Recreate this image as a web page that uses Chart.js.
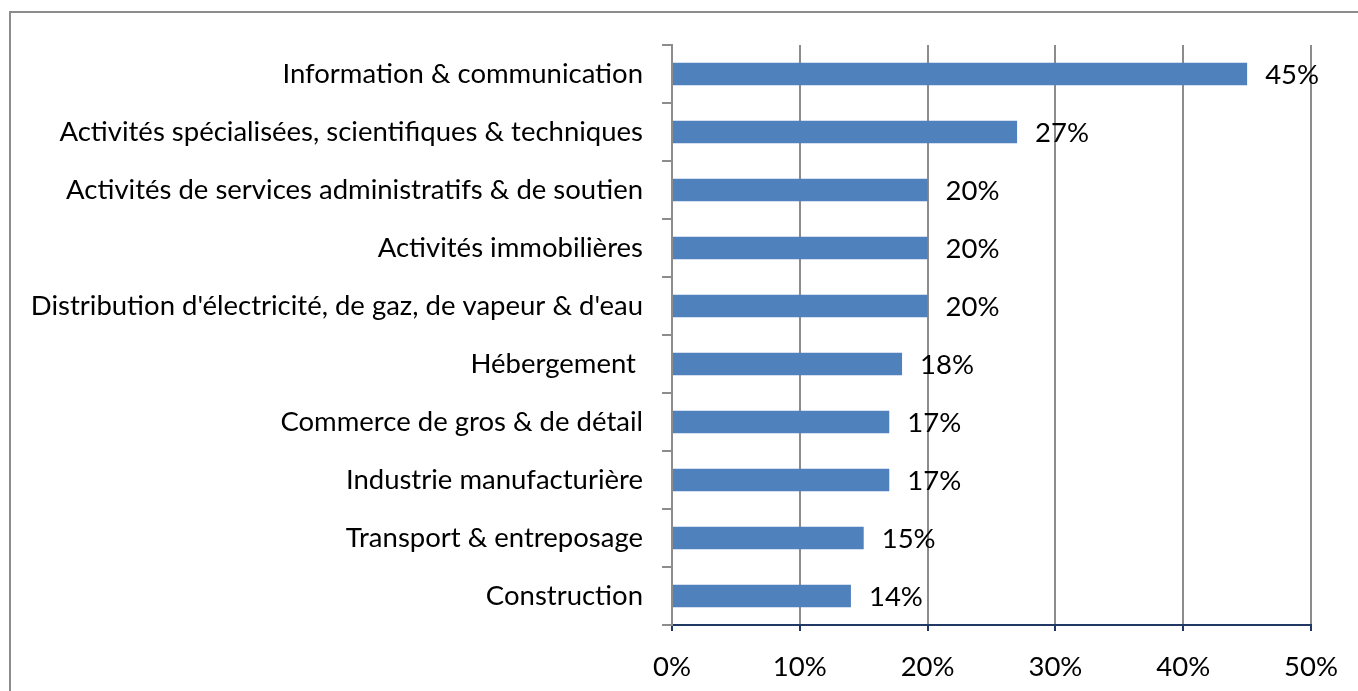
<!DOCTYPE html>
<html>
<head>
<meta charset="utf-8">
<script src="https://cdn.jsdelivr.net/npm/chart.js@4"></script>
<style>
html,body{margin:0;padding:0;background:#fff;}
#wrap{width:1358px;height:691px;position:relative;}
</style>
</head>
<body>
<div id="wrap"><canvas id="c" width="1358" height="691"></canvas></div>
<script>
const categories = [
  "Information & communication",
  "Activités spécialisées, scientifiques & techniques",
  "Activités de services administratifs & de soutien",
  "Activités immobilières",
  "Distribution d'électricité, de gaz, de vapeur & d'eau",
  "Hébergement ",
  "Commerce de gros & de détail",
  "Industrie manufacturière",
  "Transport & entreposage",
  "Construction"
];
const values = [45, 27, 20, 20, 20, 18, 17, 17, 15, 14];
const xTicks = [0, 10, 20, 30, 40, 50];

const FONT_FAMILY = "Lato, 'Open Sans', sans-serif";
// pick a font size so the longest label matches the reference width
const mctx = document.createElement('canvas').getContext('2d');
let fs = 22;
for (let s = 28; s >= 14; s -= 0.5) {
  mctx.font = s + "px " + FONT_FAMILY;
  if (mctx.measureText("Distribution d'électricité, de gaz, de vapeur & d'eau").width <= 613) { fs = s; break; }
}

const borderPlugin = {
  id: 'outerBorder',
  beforeDraw(chart) {
    const ctx = chart.ctx;
    ctx.save();
    ctx.strokeStyle = '#8c8c8c';
    ctx.lineWidth = 2;
    ctx.strokeRect(10, 12, 1400, 720);
    ctx.restore();
  }
};

const labelPlugin = {
  id: 'valueLabels',
  afterDatasetsDraw(chart) {
    const ctx = chart.ctx;
    const meta = chart.getDatasetMeta(0);
    ctx.save();
    ctx.font = fs + "px " + FONT_FAMILY;
    ctx.fillStyle = '#000';
    ctx.textAlign = 'left';
    ctx.textBaseline = 'middle';
    meta.data.forEach((bar, i) => {
      ctx.fillText(values[i] + '%', bar.x + 18, bar.y + 1);
    });
    ctx.restore();
  }
};

new Chart(document.getElementById('c'), {
  type: 'bar',
  data: {
    labels: categories,
    datasets: [{
      data: values,
      backgroundColor: '#4F81BD',
      borderWidth: 0,
      barPercentage: 0.39,
      categoryPercentage: 1
    }]
  },
  options: {
    indexAxis: 'y',
    responsive: false,
    animation: false,
    layout: { padding: { top: 45, right: 43, left: 0, bottom: 0 } },
    plugins: { legend: { display: false }, tooltip: { enabled: false }, title: { display: false } },
    scales: {
      x: {
        min: 0, max: 50,
        afterBuildTicks(axis) { axis.ticks = xTicks.map(v => ({ value: v })); },
        afterFit(axis) { axis.height = 66; },
        border: { color: '#1F3864', width: 2 },
        grid: { color: '#8c8c8c', lineWidth: 2, tickColor: '#1F3864', tickLength: 6, drawOnChartArea: true },
        ticks: {
          color: '#000',
          font: { family: FONT_FAMILY, size: fs },
          padding: 20,
          callback: v => v + '%'
        }
      },
      y: {
        afterFit(axis) { axis.width = 672; },
        border: { color: '#8c8c8c', width: 2 },
        grid: { offset: true, drawOnChartArea: false, color: '#8c8c8c', lineWidth: 2, tickLength: 10 },
        ticks: {
          color: '#000',
          font: { family: FONT_FAMILY, size: fs },
          padding: 19,
          autoSkip: false
        }
      }
    }
  },
  plugins: [borderPlugin, labelPlugin]
});
</script>
</body>
</html>
